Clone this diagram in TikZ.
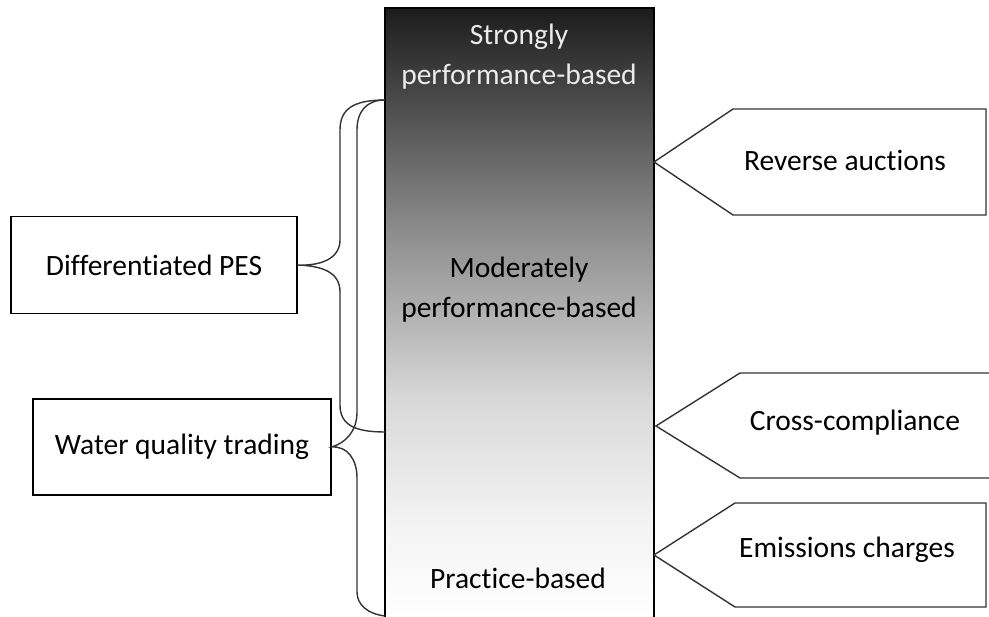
\documentclass[tikz,border=0pt]{standalone}
\usepackage{fontspec}
\setmainfont[Ligatures={NoCommon}]{Carlito}
\pgfdeclareverticalshading{barshade}{100bp}{color(0bp)=(white); color(25bp)=(white); color(33bp)=(black!5); color(42.8bp)=(black!15); color(57.6bp)=(black!47); color(65.8bp)=(black!67); color(75bp)=(black!89); color(100bp)=(black!89)}
\begin{document}
\begin{tikzpicture}[x=1pt,y=-1pt,
  line width=1.4pt,
  lab/.style={font=\fontsize{29.5}{40}\selectfont, align=center, inner sep=0pt},
  boxn/.style={draw, line width=1.4pt, font=\fontsize{29.5}{40}\selectfont, inner sep=0pt},
  brace/.style={draw=black!80, line width=1.4pt}]
\useasboundingbox (0,0) rectangle (989,617);
% central gradient bar
\shade[shading=barshade] (385,8) rectangle (654,617);
\draw (385,620) -- (385,8) -- (654,8) -- (654,620);
\node[lab, text=white!92!black] (strong) at (519,57) {Strongly\\performance-based};
\node[lab] (moder) at (519,290) {Moderately\\performance-based};
\node[lab] (pract) at (518,578) {Practice-based};
% left boxes
\node[boxn, minimum width=286pt, minimum height=97pt] (dpes) at (154,265) {Differentiated PES};
\node[boxn, minimum width=298pt, minimum height=96pt] (wqt) at (182,447) {Water quality trading};
\coordinate (b1top) at (385,100);
\coordinate (b1bot) at (385,432);
\coordinate (b2top) at (385,100);
\coordinate (b2bot) at (385,616);
% brace for Differentiated PES
\draw[brace] (b1top) .. controls (352,100) and (340,110) .. (340,130)
  -- (340,240) .. controls (340,258) and (322,266) .. (dpes.east)
  .. controls (322,266) and (340,272) .. (340,292)
  -- (340,405) .. controls (340,425) and (355,432) .. (b1bot);
% brace for Water quality trading
\draw[brace] (b2top) .. controls (366,100) and (357,112) .. (357,130)
  -- (357,412) .. controls (357,432) and (345,443) .. (wqt.east)
  .. controls (348,446) and (357,460) .. (357,478)
  -- (357,592) .. controls (357,605) and (368,614) .. (b2bot);
% right arrows
\draw[line width=1.4pt, draw=black!80] (654,162) -- (733,109) -- (986,109) -- (986,215) -- (733,215) -- cycle;
\node[lab] (rev) at (845,160) {Reverse auctions};
\draw[line width=1.4pt, draw=black!80] (656,426) -- (740,373) -- (995,373) -- (995,478) -- (740,478) -- cycle;
\node[lab] (cross) at (855,423) {Cross-compliance};
\draw[line width=1.4pt, draw=black!80] (654,555) -- (735,503) -- (986,503) -- (986,607) -- (735,607) -- cycle;
\node[lab] (emis) at (847,550) {Emissions charges};
\end{tikzpicture}
\end{document}
